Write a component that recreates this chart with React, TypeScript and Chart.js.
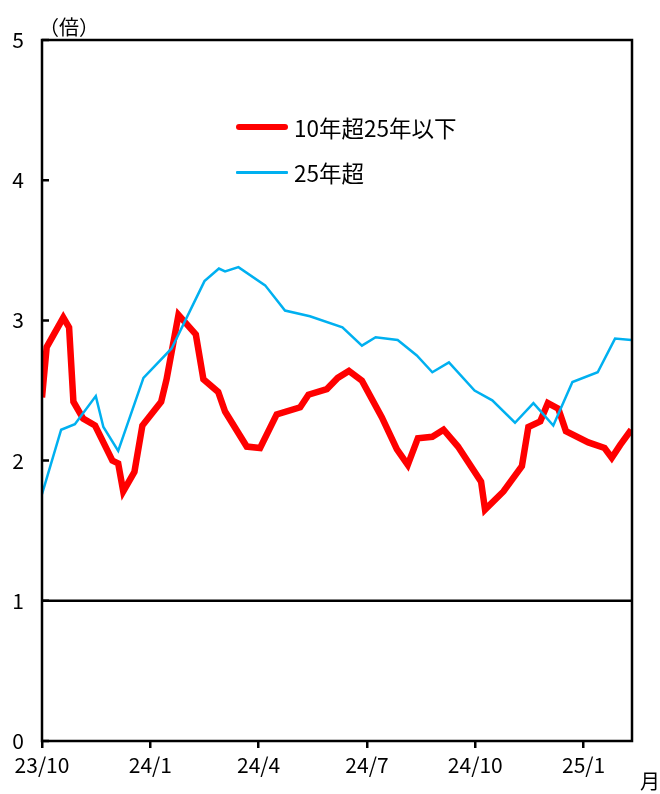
import { useEffect, useRef } from "react"
import { Chart, registerables } from "chart.js"

Chart.register(...registerables)

// x = months since 2023/10
const monthLabels = ["23/10", "24/1", "24/4", "24/7", "24/10", "25/1"]
const xMax = 16.34

const redMonths = [
  0, 0.13, 0.59, 0.75, 0.87, 1.14, 1.47, 1.95, 2.11, 2.25, 2.56, 2.78, 3.3, 3.45, 3.78, 4.26, 4.47, 4.88,
  5.07, 5.67, 6.04, 6.5, 7.15, 7.38, 7.89, 8.19, 8.5, 8.86, 9.41, 9.83, 10.13, 10.41, 10.81, 11.12, 11.52,
  12.16, 12.27, 12.78, 13.29, 13.47, 13.8, 14.01, 14.3, 14.51, 15.13, 15.58, 15.78, 16.01, 16.32,
]
const redValues = [
  2.45, 2.81, 3.02, 2.95, 2.42, 2.3, 2.25, 2.0, 1.98, 1.78, 1.92, 2.25, 2.42, 2.58, 3.04, 2.9, 2.58, 2.49,
  2.35, 2.1, 2.09, 2.33, 2.38, 2.47, 2.51, 2.59, 2.64, 2.57, 2.31, 2.08, 1.97, 2.16, 2.17, 2.22, 2.1,
  1.85, 1.65, 1.78, 1.96, 2.24, 2.28, 2.41, 2.37, 2.21, 2.13, 2.09, 2.02, 2.11, 2.22,
]

const blueMonths = [
  0, 0.53, 0.91, 1.49, 1.7, 2.11, 2.81, 3.59, 4.5, 4.9, 5.07, 5.44, 6.18, 6.73, 7.42, 8.32, 8.86, 9.24,
  9.85, 10.38, 10.81, 11.27, 11.98, 12.47, 13.1, 13.61, 14.16, 14.69, 15.39, 15.87, 16.32,
]
const blueValues = [
  1.76, 2.22, 2.26, 2.46, 2.24, 2.07, 2.59, 2.8, 3.28, 3.37, 3.35, 3.38, 3.25, 3.07, 3.03, 2.95, 2.82, 2.88,
  2.86, 2.75, 2.63, 2.7, 2.5, 2.43, 2.27, 2.41, 2.25, 2.56, 2.63, 2.87, 2.86,
]

const FONT = '"Noto Sans CJK JP", "Noto Sans", sans-serif'

const framePlugin = {
  id: "frame",
  afterDatasetsDraw(chart: any) {
    const { ctx, chartArea: a, scales } = chart
    const y = scales.y
    ctx.save()
    ctx.strokeStyle = "#000"
    ctx.lineWidth = 2.5
    ctx.strokeRect(a.left, a.top, a.right - a.left, a.bottom - a.top)
    ctx.beginPath()
    y.ticks.forEach((t: any) => {
      const py = y.getPixelForValue(t.value)
      ctx.moveTo(a.left, py)
      ctx.lineTo(a.left + 7, py)
    })
    ctx.stroke()
    ctx.restore()
  },
}

const App = () => {
  const chartRef = useRef<HTMLCanvasElement>(null)

  useEffect(() => {
    if (!chartRef.current) return
    const myChart = new Chart(chartRef.current, {
      type: "line",
      data: {
        datasets: [
          {
            label: "25年超",
            data: blueMonths.map((m, i) => ({ x: m, y: blueValues[i] })),
            borderColor: "#00b0f0",
            borderWidth: 2.5,
            pointRadius: 0,
          },
          {
            label: "10年超25年以下",
            data: redMonths.map((m, i) => ({ x: m, y: redValues[i] })),
            borderColor: "#ff0000",
            borderWidth: 6.5,
            pointRadius: 0,
          },
          {
            label: "1",
            data: [
              { x: 0, y: 1 },
              { x: xMax, y: 1 },
            ],
            borderColor: "#000",
            borderWidth: 2.5,
            pointRadius: 0,
          },
        ],
      },
      options: {
        animation: false,
        responsive: true,
        maintainAspectRatio: false,
        layout: { padding: { top: 40, right: 28, left: 0, bottom: 0 } },
        plugins: { legend: { display: false }, tooltip: { enabled: false } },
        scales: {
          x: {
            type: "linear",
            min: 0,
            max: xMax,
            afterBuildTicks: (scale: any) => {
              scale.ticks = monthLabels.map((_, i) => ({ value: i * 3 }))
            },
            afterFit: (scale: any) => {
              scale.height = 53
            },
            ticks: {
              color: "#000",
              font: { family: FONT, size: 21 },
              padding: 4,
              maxRotation: 0,
              autoSkip: false,
              callback: (v: any) => monthLabels[Math.round(v / 3)],
            },
            grid: { drawOnChartArea: false, drawTicks: true, tickLength: 7, color: "#000", lineWidth: 2.5 },
            border: { display: false },
          },
          y: {
            min: 0,
            max: 5,
            afterFit: (scale: any) => {
              scale.width = 42
            },
            ticks: {
              stepSize: 1,
              color: "#000",
              font: { family: FONT, size: 21 },
              padding: 18,
            },
            grid: { display: false, drawTicks: false },
            border: { display: false },
          },
        },
      },
      plugins: [framePlugin],
    })

    return () => {
      myChart.destroy()
    }
  }, [])

  const text = { position: "absolute" as const, fontFamily: FONT, color: "#000", whiteSpace: "nowrap" as const }

  return (
    <div style={{ position: "absolute", left: 0, top: 0, width: 660, height: 794, background: "#fff" }}>
      <canvas ref={chartRef} />
      <div style={{ ...text, left: 39, top: 12, fontSize: 20 }}>（倍）</div>
      <div style={{ ...text, left: 640, top: 766, fontSize: 20 }}>月</div>
      <div style={{ position: "absolute", left: 236, top: 124, width: 52, height: 6, borderRadius: 3, background: "#ff0000" }} />
      <div style={{ ...text, left: 294, top: 113, fontSize: 22.5, lineHeight: "28px" }}>10年超25年以下</div>
      <div style={{ position: "absolute", left: 236, top: 171, width: 52, height: 2.5, borderRadius: 1, background: "#00b0f0" }} />
      <div style={{ ...text, left: 294, top: 158, fontSize: 22.5, lineHeight: "28px" }}>25年超</div>
    </div>
  )
}

export default App
